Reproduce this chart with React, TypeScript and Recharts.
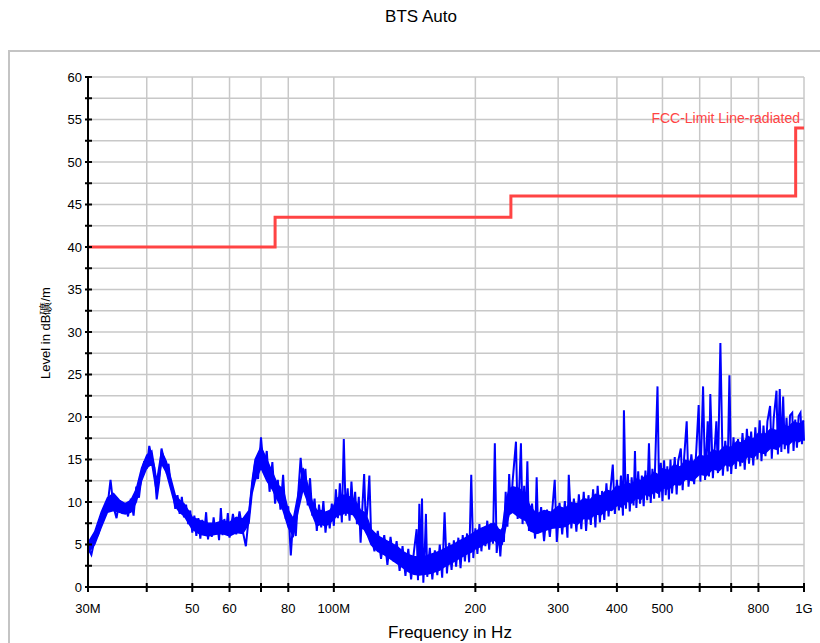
import React from 'react';
import { ComposedChart, Line, Area, XAxis, YAxis, CartesianGrid } from 'recharts';

// measured trace, [frequency in MHz, level in dBuV/m], one array per octave
const sweep30to60: [number, number][] = [
  [30, 4.6], [30.5, 3.8], [31, 5.6], [31.5, 6.1], [32, 7.4], [32.5, 8.6], [33, 9.5], [33.5, 12.6],
  [34, 9.4], [34.5, 8.1], [35, 10.2], [35.5, 8.6], [36, 9.8], [36.5, 8.3], [37, 10.4], [37.5, 8.4],
  [38, 11.8], [38.5, 10.5], [39, 13.1], [39.5, 14.8], [40, 13.9], [40.5, 16.6], [41, 15.2], [41.5, 14.1],
  [42, 10.3], [42.5, 12.4], [43, 16.3], [43.5, 15.0], [44, 13.7], [44.5, 14.5], [45, 12.0], [45.5, 11.3],
  [46, 9.2], [46.5, 10.8], [47, 8.6], [47.5, 10.6], [48, 8.2], [48.5, 9.7], [49, 7.4], [49.5, 9.0],
  [50, 6.4], [50.5, 8.4], [51, 6.0], [51.5, 8.1], [52, 5.7], [52.5, 7.9], [53, 6.3], [53.5, 8.8],
  [54, 5.6], [54.5, 7.5], [55, 5.9], [55.5, 8.2], [56, 6.4], [56.5, 7.6], [57, 5.5], [57.5, 9.3],
  [58, 6.1], [58.5, 8.0], [59, 6.5], [59.5, 8.7],
];

const sweep60to120: [number, number][] = [
  [60, 5.8], [61, 8.6], [62, 6.2], [63, 8.9], [64, 6.6], [65, 4.8], [66, 8.5], [67, 11.8],
  [68, 14.6], [69, 12.7], [70, 17.6], [71, 13.4], [72, 16.0], [73, 11.2], [74, 14.7], [75, 9.8],
  [76, 12.6], [77, 9.1], [78, 13.2], [79, 8.0], [80, 9.5], [81, 3.7], [82, 8.2], [83, 6.0],
  [84, 11.0], [85, 15.2], [86, 11.5], [87, 13.9], [88, 9.6], [89, 12.8], [90, 8.4], [91, 10.4],
  [92, 6.6], [93, 9.7], [94, 7.0], [95, 10.1], [96, 6.4], [97, 8.9], [98, 6.9], [99, 9.8],
  [100, 7.2], [101, 11.5], [102, 8.1], [103, 12.2], [104, 7.6], [105, 17.4], [106, 8.4], [107, 11.6],
  [108, 7.8], [109, 12.4], [110, 8.9], [111, 11.2], [112, 7.4], [113, 10.6], [114, 5.2], [115, 9.4],
  [116, 13.3], [117, 7.1], [118, 9.6], [119, 13.1],
];

const sweep120to240: [number, number][] = [
  [120, 6.3], [122, 4.2], [124, 6.6], [126, 3.3], [128, 6.1], [130, 2.6], [132, 5.9], [134, 3.0],
  [136, 5.4], [138, 1.9], [140, 4.8], [142, 1.3], [144, 4.5], [146, 0.9], [148, 4.1], [150, 6.8],
  [151, 0.8], [152, 9.8], [153, 1.5], [154, 10.4], [155, 0.5], [156, 3.9], [157, 8.6], [158, 1.2],
  [160, 4.6], [162, 0.9], [164, 4.3], [166, 1.4], [168, 5.0], [170, 1.1], [172, 8.8], [174, 1.6],
  [176, 5.2], [178, 2.0], [180, 5.5], [182, 2.4], [184, 5.8], [186, 2.2], [188, 6.1], [190, 3.0],
  [192, 6.3], [194, 2.9], [196, 13.2], [198, 3.4], [200, 6.9], [202, 3.9], [204, 7.4], [206, 4.2],
  [208, 7.0], [210, 4.8], [212, 7.8], [214, 4.4], [216, 7.5], [218, 5.1], [220, 16.9], [222, 4.0],
  [224, 6.6], [226, 3.6], [228, 6.9], [230, 5.3], [232, 11.2], [234, 7.1], [236, 13.3], [238, 8.8],
];

const sweep240to480: [number, number][] = [
  [240, 12.4], [244, 17.1], [246, 8.0], [248, 11.8], [250, 16.9], [252, 7.4], [254, 11.9], [256, 7.9],
  [258, 14.8], [260, 6.6], [264, 9.8], [268, 5.7], [270, 12.9], [272, 6.3], [276, 9.4], [280, 5.4],
  [284, 9.1], [288, 5.9], [292, 9.6], [295, 12.6], [298, 5.3], [302, 9.9], [306, 6.2], [310, 10.1],
  [314, 5.8], [316, 13.2], [320, 6.9], [324, 10.4], [328, 6.5], [332, 10.9], [336, 6.8], [340, 11.2],
  [344, 6.6], [348, 10.8], [352, 7.3], [356, 11.5], [360, 7.0], [364, 11.9], [368, 7.6], [372, 11.3],
  [376, 7.9], [380, 12.2], [384, 8.3], [388, 11.7], [392, 14.4], [396, 8.6], [400, 12.6], [404, 9.0],
  [408, 13.1], [412, 8.4], [414, 20.8], [418, 9.2], [422, 13.3], [426, 8.9], [430, 12.9], [434, 9.6],
  [437, 16.0], [440, 9.3], [444, 13.6], [448, 9.8], [452, 13.1], [456, 9.5], [460, 13.7], [464, 10.2],
  [468, 16.9], [472, 9.9], [476, 13.9],
];

const sweep480to1000: [number, number][] = [
  [480, 10.4], [488, 23.6], [492, 10.5], [496, 14.6], [500, 10.1], [504, 14.9], [508, 10.8], [512, 14.2],
  [516, 10.3], [520, 15.0], [524, 11.0], [531, 15.3], [536, 10.9], [540, 14.8], [547, 16.3], [552, 11.4],
  [556, 15.2], [563, 19.5], [568, 11.8], [576, 15.6], [584, 12.1], [590, 16.0], [597, 21.4], [602, 12.4],
  [610, 23.6], [616, 12.6], [624, 19.5], [628, 13.0], [632, 22.7], [640, 12.8], [651, 19.5], [656, 13.4],
  [664, 28.7], [672, 13.1], [680, 17.2], [688, 13.6], [694, 24.9], [700, 13.3], [708, 17.6], [716, 13.9],
  [724, 17.4], [732, 14.2], [740, 18.1], [748, 13.8], [756, 18.6], [764, 14.5], [772, 18.3], [780, 14.3],
  [788, 18.8], [796, 15.0], [805, 19.6], [812, 14.8], [820, 19.0], [828, 15.4], [836, 19.5], [847, 21.3],
  [854, 15.1], [862, 19.8], [874, 23.1], [880, 15.6], [888, 23.3], [895, 15.9], [903, 22.4], [910, 16.2],
  [918, 19.9], [926, 15.7], [934, 20.2], [944, 20.5], [950, 16.0], [958, 19.7], [966, 16.4], [974, 20.1],
  [983, 20.5], [990, 16.8], [996, 19.6], [1000, 17.2],
];

// dense core of the noise band, [frequency in MHz, low, high]
const core30to120: [number, number, number][] = [
  [30, 4.0, 5.2], [31, 5.0, 6.5], [32, 7.0, 8.8], [33, 8.8, 10.5], [34, 9.0, 11.0], [35, 8.8, 10.2],
  [36, 8.6, 9.8], [37, 8.8, 10.2], [38, 10.0, 11.5], [39, 12.5, 14.0], [40, 14.0, 15.5], [41, 14.5, 16.0],
  [42, 11.0, 12.5], [43, 14.5, 16.0], [44, 13.5, 14.8], [45, 11.5, 12.8], [46, 9.5, 10.8], [47, 8.8, 10.2],
  [48, 8.4, 9.8], [49, 7.6, 9.0], [50, 6.8, 8.2], [52, 6.2, 7.8], [54, 6.0, 7.5], [56, 6.2, 7.5],
  [58, 6.3, 7.8], [60, 6.0, 7.6], [62, 6.4, 8.2], [64, 6.3, 8.0], [66, 7.5, 9.0], [67, 11.0, 12.5],
  [68, 12.5, 15.0], [70, 14.0, 16.5], [72, 12.5, 15.0], [74, 11.5, 13.5], [76, 10.2, 12.0], [78, 9.0, 11.5],
  [80, 7.0, 9.0], [82, 6.0, 8.0], [84, 9.0, 11.0], [86, 11.5, 14.0], [88, 10.0, 12.0], [90, 8.5, 10.0],
  [92, 7.2, 9.0], [94, 7.4, 9.0], [96, 7.2, 8.8], [98, 7.5, 9.0], [100, 8.0, 9.6], [102, 8.5, 10.5],
  [104, 8.5, 10.8], [106, 8.8, 10.8], [108, 8.6, 10.6], [110, 8.5, 10.4], [112, 7.8, 9.8], [114, 7.0, 9.0],
  [116, 6.8, 8.8], [118, 6.0, 8.0],
];

const core120to1000: [number, number, number][] = [
  [120, 5.0, 6.8], [124, 4.2, 6.0], [128, 3.8, 5.6], [132, 3.3, 5.2], [136, 2.8, 4.8], [140, 2.3, 4.2],
  [144, 1.8, 3.8], [148, 1.5, 3.6], [152, 1.4, 3.5], [156, 1.5, 3.6], [160, 1.6, 3.8], [164, 1.8, 4.0],
  [168, 2.0, 4.2], [172, 2.4, 4.5], [176, 2.7, 4.8], [180, 3.0, 5.0], [184, 3.3, 5.4], [188, 3.6, 5.6],
  [192, 3.9, 5.9], [196, 4.1, 6.2], [200, 4.5, 6.5], [204, 4.7, 6.8], [208, 5.0, 7.0], [212, 5.2, 7.2],
  [216, 5.4, 7.4], [220, 5.5, 7.5], [224, 5.0, 6.8], [228, 5.0, 6.6], [232, 7.0, 10.0], [236, 8.5, 11.5],
  [240, 8.8, 11.8], [248, 8.2, 11.6], [256, 7.8, 10.6], [262, 6.6, 9.4], [270, 6.3, 8.6], [280, 6.6, 9.0],
  [290, 6.9, 8.8], [300, 7.0, 9.5], [310, 7.1, 9.2], [320, 7.6, 9.9], [330, 7.4, 9.8], [340, 8.1, 10.4],
  [350, 8.0, 10.2], [360, 8.6, 10.9], [370, 8.5, 10.7], [380, 9.1, 11.4], [390, 9.0, 11.2], [400, 9.6, 11.9],
  [410, 9.4, 11.7], [420, 10.1, 12.3], [430, 9.9, 12.0], [440, 10.5, 12.7], [450, 10.3, 12.5], [460, 10.9, 13.1],
  [470, 10.7, 12.9], [480, 11.3, 13.5], [490, 11.0, 13.2], [500, 11.7, 13.9], [515, 11.5, 13.7], [530, 12.1, 14.4],
  [545, 12.0, 14.1], [560, 12.7, 14.9], [580, 12.5, 14.7], [600, 13.3, 15.5], [620, 13.1, 15.3], [640, 13.9, 16.1],
  [660, 13.7, 15.9], [680, 14.4, 16.6], [700, 14.2, 16.4], [720, 14.9, 17.1], [740, 14.7, 16.9], [760, 15.4, 17.7],
  [780, 15.2, 17.4], [800, 15.9, 18.1], [825, 15.7, 17.9], [850, 16.4, 18.6], [875, 16.2, 18.4], [900, 16.9, 19.1],
  [925, 16.7, 18.8], [950, 17.3, 19.4], [975, 17.1, 19.2], [1000, 17.5, 19.5],
];

// FCC limit line (step after each frequency)
const limitFreqs = [30, 75, 238, 960, 1000];
const limitLevels = [40, 43.5, 46, 54, 54];

const xTicks = [30, 40, 50, 60, 70, 80, 100, 200, 300, 400, 500, 600, 700, 800, 1000];
const xTickLabels: Record<number, string> = {
  30: '30M', 50: '50', 60: '60', 80: '80', 100: '100M', 200: '200',
  300: '300', 400: '400', 500: '500', 800: '800', 1000: '1G',
};
const yTicks = [
  0, 2.5, 5, 7.5, 10, 12.5, 15, 17.5, 20, 22.5, 25, 27.5, 30,
  32.5, 35, 37.5, 40, 42.5, 45, 47.5, 50, 52.5, 55, 57.5, 60,
];

const FONT = '"Liberation Sans", Arial, sans-serif';

const trace = [...sweep30to60, ...sweep60to120, ...sweep120to240, ...sweep240to480, ...sweep480to1000]
  .map(([f, v]) => ({ f, v }));
const core = [...core30to120, ...core120to1000].map(([f, lo, hi]) => ({ f, range: [lo, hi] }));
const limit = limitFreqs.map((f, i) => ({ f, v: limitLevels[i] }));

const XTick = (props: any) => {
  const { x, y, payload } = props;
  const label = xTickLabels[payload.value];
  return (
    <g>
      <line x1={x} x2={x} y1={y - 4} y2={y + 5} stroke="#000" strokeWidth={2} />
      {label && (
        <text x={x} y={y + 26} textAnchor="middle" fontSize={13} fontFamily={FONT} fill="#000">
          {label}
        </text>
      )}
    </g>
  );
};

const YTick = (props: any) => {
  const { x, y, payload } = props;
  const show = payload.value % 5 === 0;
  return (
    <g>
      <line x1={x - 3} x2={x + 4} y1={y} y2={y} stroke="#000" strokeWidth={2} />
      {show && (
        <text x={x - 6} y={y + 4.5} textAnchor="end" fontSize={13} fontFamily={FONT} fill="#000">
          {payload.value}
        </text>
      )}
    </g>
  );
};

const App: React.FC = () => {
  return (
    <div style={{ position: 'fixed', left: 0, top: 0, width: 820, height: 643, overflow: 'hidden', background: '#fff', fontFamily: FONT }}>
      {/* outer frame, runs off the right and bottom edges */}
      <div style={{ position: 'absolute', left: 8, top: 50, width: 900, height: 700, border: '2px solid #c4c4c4', boxSizing: 'border-box' }} />

      <div style={{ position: 'absolute', left: 321, top: 7, width: 200, textAlign: 'center', fontSize: 17, lineHeight: '20px', color: '#000' }}>
        BTS Auto
      </div>

      <div style={{ position: 'absolute', left: 0, top: 0 }}>
        <ComposedChart width={820} height={643} margin={{ top: 77, right: 16, bottom: 0, left: 0 }}>
          <CartesianGrid stroke="#c8c8c8" strokeWidth={1.5} />
          <XAxis
            dataKey="f"
            type="number"
            scale="log"
            domain={[30, 1000]}
            ticks={xTicks}
            interval={0}
            height={56}
            tickSize={0}
            tickMargin={0}
            tickLine={false}
            tick={<XTick />}
            axisLine={{ stroke: '#000', strokeWidth: 2 }}
          />
          <YAxis
            type="number"
            domain={[0, 60]}
            ticks={yTicks}
            interval={0}
            width={88}
            tickSize={0}
            tickMargin={0}
            tickLine={false}
            tick={<YTick />}
            axisLine={{ stroke: '#000', strokeWidth: 2 }}
          />
          <Area
            data={core}
            dataKey="range"
            type="linear"
            stroke="#0000ff"
            strokeWidth={1.5}
            fill="#0000ff"
            fillOpacity={1}
            dot={false}
            activeDot={false}
            isAnimationActive={false}
          />
          <Line
            data={trace}
            dataKey="v"
            type="linear"
            stroke="#0000ff"
            strokeWidth={2}
            dot={false}
            isAnimationActive={false}
          />
          <Line
            data={limit}
            dataKey="v"
            type="stepAfter"
            stroke="#ff4444"
            strokeWidth={3}
            dot={false}
            isAnimationActive={false}
          />
        </ComposedChart>
      </div>

      <div style={{ position: 'absolute', left: 540, top: 110, width: 260, textAlign: 'right', fontSize: 14, lineHeight: '16px', color: '#ff4444' }}>
        FCC-Limit Line-radiated
      </div>

      <div style={{ position: 'absolute', left: 46, top: 333, transform: 'translate(-50%, -50%) rotate(-90deg)', whiteSpace: 'nowrap', fontSize: 13, color: '#000' }}>
        Level in dB礦/m
      </div>

      <div style={{ position: 'absolute', left: 350, top: 623, width: 200, textAlign: 'center', fontSize: 17, lineHeight: '20px', color: '#000' }}>
        Frequency in Hz
      </div>
    </div>
  );
};

export default App;
